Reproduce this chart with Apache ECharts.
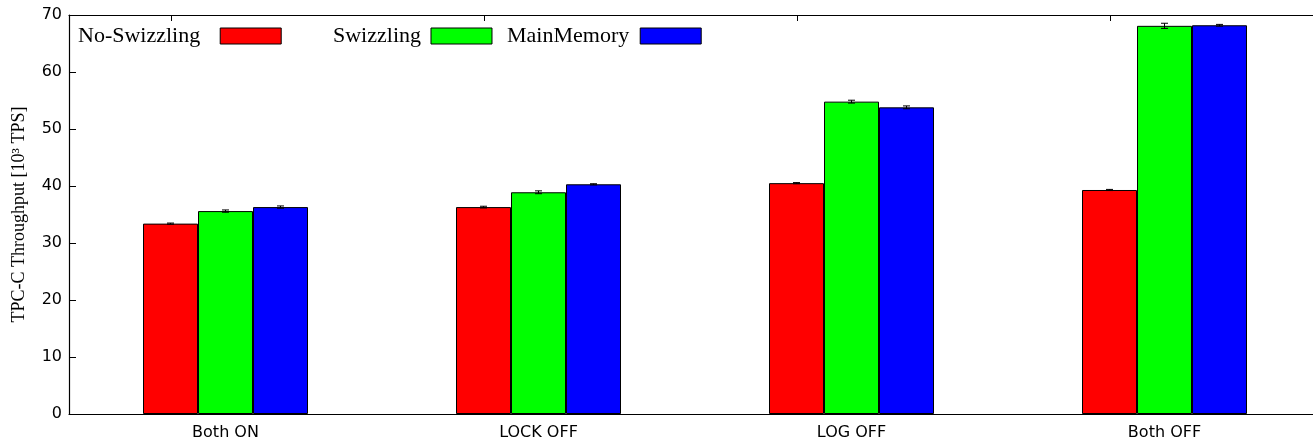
<!DOCTYPE html>
<html>
<head>
<meta charset="utf-8">
<script src="https://cdn.jsdelivr.net/npm/echarts@6/dist/echarts.min.js"></script>
<style>
html,body{margin:0;padding:0;background:#fff;}
#chart{width:1313px;height:440px;}
</style>
</head>
<body>
<div id="chart"></div>
<script>
const categories = ['Both ON', 'LOCK OFF', 'LOG OFF', 'Both OFF'];
const seriesNames = ['No-Swizzling', 'Swizzling', 'MainMemory'];
const noSwizzling = [33.4, 36.3, 40.5, 39.3];
const swizzling = [35.6, 38.9, 54.8, 68.1];
const mainMemory = [36.3, 40.3, 53.8, 68.2];
const noSwizzlingErr = [0.1, 0.15, 0.1, 0.1];
const swizzlingErr = [0.2, 0.25, 0.25, 0.45];
const mainMemoryErr = [0.2, 0.1, 0.25, 0.15];
const yTicks = [0, 10, 20, 30, 40, 50, 60, 70];

const colors = ['#ff0000', '#00ff00', '#0000ff'];
const values = [noSwizzling, swizzling, mainMemory];
const errs = [noSwizzlingErr, swizzlingErr, mainMemoryErr];
const BAR_W = 55;

const chart = echarts.init(document.getElementById('chart'), null, {renderer: 'canvas'});

const series = [];
values.forEach((vals, s) => {
  series.push({
    name: seriesNames[s],
    type: 'bar',
    xAxisIndex: 0, yAxisIndex: 0,
    data: vals,
    barWidth: BAR_W,
    barGap: '0%',
    itemStyle: {color: colors[s], borderColor: '#000', borderWidth: 1},
    emphasis: {disabled: true},
    z: 2
  });
});
values.forEach((vals, s) => {
  const data = vals.map((v, i) => [i, v - errs[s][i], v + errs[s][i]]);
  series.push({
    type: 'custom',
    xAxisIndex: 0, yAxisIndex: 0,
    data: data,
    encode: {x: 0, y: [1, 2]},
    z: 5,
    silent: true,
    renderItem: function (params, api) {
      const lo = api.coord([api.value(0), api.value(1)]);
      const hi = api.coord([api.value(0), api.value(2)]);
      const x = lo[0] + (s - 1) * BAR_W;
      const hw = 3.5;
      const st = {stroke: '#000', lineWidth: 1};
      return {
        type: 'group',
        children: [
          {type: 'line', shape: {x1: x, y1: lo[1], x2: x, y2: hi[1]}, style: st},
          {type: 'line', shape: {x1: x - hw, y1: lo[1], x2: x + hw, y2: lo[1]}, style: st},
          {type: 'line', shape: {x1: x - hw, y1: hi[1], x2: x + hw, y2: hi[1]}, style: st}
        ]
      };
    }
  });
});

const legendLefts = [78, 333, 507];
const legendTextPad = [15, 5, 6];
const legends = seriesNames.map((n, i) => ({
  data: [n],
  left: legendLefts[i],
  top: 25,
  padding: 0,
  align: 'right',
  itemWidth: 61,
  itemHeight: 16,
  selectedMode: false,
  icon: 'rect',
  itemStyle: {borderColor: '#000', borderWidth: 1},
  textStyle: {fontFamily: 'Liberation Serif', fontSize: 22, color: '#000', padding: [0, legendTextPad[i], 0, 0]}
}));

const option = {
  animation: false,
  backgroundColor: '#fff',
  legend: legends,
  grid: [
    {left: 69, right: -8, top: 15, bottom: 26, containLabel: false, outerBoundsMode: 'none'},
    {left: -142, right: 203, top: 15, bottom: 26, containLabel: false, outerBoundsMode: 'none'}
  ],
  xAxis: [
    {
      type: 'category', gridIndex: 0, data: categories, position: 'bottom',
      axisLine: {show: true, lineStyle: {color: '#000', width: 1.2}},
      axisTick: {show: false},
      axisLabel: {fontFamily: 'DejaVu Sans', fontSize: 16, color: '#000', margin: 11}
    },
    {
      type: 'category', gridIndex: 0, data: categories, position: 'top',
      axisLine: {show: true, onZero: false, lineStyle: {color: '#000', width: 1.2}},
      axisTick: {show: false},
      axisLabel: {show: false}
    },
    {
      type: 'category', gridIndex: 1, data: categories, position: 'top',
      axisLine: {show: false, onZero: false},
      axisTick: {show: true, inside: true, length: 6, lineStyle: {color: '#000', width: 1}},
      axisLabel: {show: false}
    }
  ],
  yAxis: [
    {
      type: 'value', gridIndex: 0, min: 0, max: 70, interval: 10,
      axisLine: {show: true, lineStyle: {color: '#000', width: 1.2}},
      axisTick: {show: true, inside: true, length: 7, lineStyle: {color: '#000'}},
      splitLine: {show: false},
      axisLabel: {
        fontFamily: 'DejaVu Sans', fontSize: 16, color: '#000', margin: 7,
        formatter: function (v) { return yTicks.indexOf(v) >= 0 ? String(v) : ''; }
      },
      name: 'TPC-C Throughput [10³ TPS]',
      nameLocation: 'middle',
      nameGap: 41,
      nameTextStyle: {fontFamily: 'Liberation Serif', fontSize: 18, color: '#000'}
    },
    {
      type: 'value', gridIndex: 1, min: 0, max: 70, show: false
    }
  ],
  series: series
};
chart.setOption(option);
</script>
</body>
</html>
